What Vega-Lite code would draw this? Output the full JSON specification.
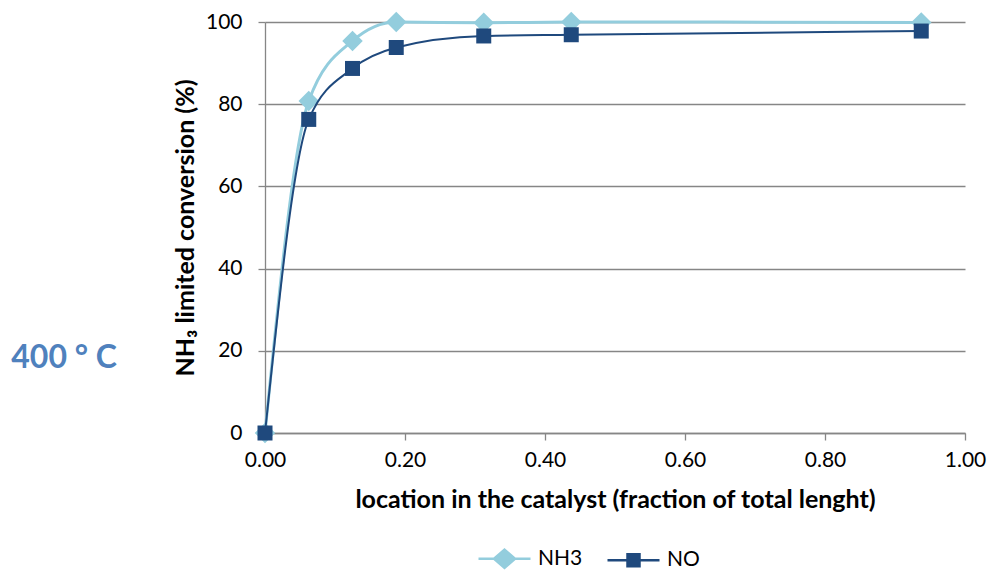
{
  "$schema": "https://vega.github.io/schema/vega-lite/v6.json",
  "width": 700,
  "height": 411,
  "autosize": "none",
  "padding": {"left": 265, "top": 22, "right": 23, "bottom": 139},
  "config": {
    "view": {"stroke": null},
    "font": "Lato",
    "axis": {
      "gridColor": "#868686",
      "gridWidth": 1.3,
      "domainColor": "#868686",
      "domainWidth": 1.3,
      "tickColor": "#868686",
      "tickWidth": 1.3,
      "tickSize": 7,
      "labelColor": "#000000",
      "labelFont": "Lato",
      "labelFontSize": 21,
      "labelFlush": false,
      "titleColor": "#000000",
      "titleFont": "Lato",
      "titleFontWeight": "bold",
      "titleFontSize": 25
    }
  },
  "datasets": {
    "conversion": [
      {"series": "NH3", "location": 0, "conversion": 0},
      {"series": "NH3", "location": 0.0625, "conversion": 80.8},
      {"series": "NH3", "location": 0.125, "conversion": 95.4},
      {"series": "NH3", "location": 0.1875, "conversion": 100},
      {"series": "NH3", "location": 0.3125, "conversion": 99.8},
      {"series": "NH3", "location": 0.4375, "conversion": 100},
      {"series": "NH3", "location": 0.9375, "conversion": 99.9},
      {"series": "NO", "location": 0, "conversion": 0},
      {"series": "NO", "location": 0.0625, "conversion": 76.3},
      {"series": "NO", "location": 0.125, "conversion": 88.7},
      {"series": "NO", "location": 0.1875, "conversion": 93.8},
      {"series": "NO", "location": 0.3125, "conversion": 96.6},
      {"series": "NO", "location": 0.4375, "conversion": 96.9},
      {"series": "NO", "location": 0.9375, "conversion": 97.8}
    ]
  },
  "data": {"name": "conversion"},
  "layer": [
    {
      "data": {"values": [{"label": "400 ° C"}]},
      "mark": {
        "type": "text",
        "clip": false,
        "font": "Lato",
        "fontSize": 32,
        "fontWeight": "bold",
        "color": "#4f81bd",
        "align": "center",
        "baseline": "alphabetic"
      },
      "encoding": {
        "x": {"datum": -0.287, "type": "quantitative"},
        "y": {"datum": 15.9, "type": "quantitative"},
        "text": {"field": "label", "type": "nominal"}
      }
    },
    {
      "transform": [{"filter": "datum.series === 'NH3'"}],
      "mark": {"type": "line", "interpolate": "monotone", "color": "#93cddd", "strokeWidth": 3},
      "encoding": {
        "x": {
          "field": "location",
          "type": "quantitative",
          "scale": {"domain": [0, 1], "nice": false, "zero": false},
          "axis": {
            "title": "location in the catalyst (fraction of total lenght)",
            "values": [0, 0.2, 0.4, 0.6, 0.8, 1],
            "format": ".2f",
            "grid": false,
            "labelPadding": 9,
            "titlePadding": 17
          }
        },
        "y": {
          "field": "conversion",
          "type": "quantitative",
          "scale": {"domain": [0, 100], "nice": false},
          "axis": {
            "title": "NH₃ limited conversion (%)",
            "values": [0, 20, 40, 60, 80, 100],
            "grid": true,
            "labelPadding": 16,
            "titlePadding": 7
          }
        }
      }
    },
    {
      "transform": [{"filter": "datum.series === 'NH3'"}],
      "mark": {"type": "point", "shape": "diamond", "filled": true, "opacity": 1, "size": 420, "color": "#93cddd"},
      "encoding": {
        "x": {"field": "location", "type": "quantitative"},
        "y": {"field": "conversion", "type": "quantitative"}
      }
    },
    {
      "transform": [{"filter": "datum.series === 'NO'"}],
      "mark": {"type": "line", "interpolate": "monotone", "color": "#1f497d", "strokeWidth": 2},
      "encoding": {
        "x": {"field": "location", "type": "quantitative"},
        "y": {"field": "conversion", "type": "quantitative"}
      }
    },
    {
      "transform": [{"filter": "datum.series === 'NO'"}],
      "mark": {"type": "point", "shape": "square", "filled": true, "opacity": 1, "size": 225, "color": "#1f497d"},
      "encoding": {
        "x": {"field": "location", "type": "quantitative"},
        "y": {"field": "conversion", "type": "quantitative"}
      }
    },
    {
      "data": {"values": []},
      "mark": {"type": "point", "filled": false, "opacity": 1, "strokeWidth": 2.5},
      "encoding": {
        "x": {"field": "location", "type": "quantitative"},
        "y": {"field": "conversion", "type": "quantitative"},
        "color": {
          "field": "series",
          "type": "nominal",
          "scale": {"domain": ["NH3", "NO"], "range": ["#93cddd", "#1f497d"]},
          "legend": {
            "title": null,
            "orient": "none",
            "legendX": 228,
            "legendY": 525,
            "padding": 0,
            "direction": "horizontal",
            "symbolSize": 400,
            "symbolStrokeWidth": 2.5,
            "symbolOpacity": 1,
            "labelFont": "Lato",
            "labelFontSize": 21,
            "labelColor": "#000000",
            "labelOffset": 22,
            "columnPadding": 19
          }
        },
        "shape": {
          "field": "series",
          "type": "nominal",
          "scale": {
            "domain": ["NH3", "NO"],
            "range": [
              "M-2.6,0H2.6M0,-0.9L1.05,0L0,0.9L-1.05,0ZM0,-0.68L0.79,0L0,0.68L-0.79,0ZM0,-0.45L0.53,0L0,0.45L-0.53,0ZM0,-0.23L0.26,0L0,0.23L-0.26,0Z",
              "M-2.6,0H2.6M-0.6,-0.6H0.6V0.6H-0.6ZM-0.4,-0.4H0.4V0.4H-0.4ZM-0.2,-0.2H0.2V0.2H-0.2Z"
            ]
          },
          "legend": {
            "title": null,
            "orient": "none",
            "legendX": 228,
            "legendY": 525,
            "padding": 0,
            "direction": "horizontal",
            "symbolSize": 400,
            "symbolStrokeWidth": 2.5,
            "symbolOpacity": 1,
            "labelFont": "Lato",
            "labelFontSize": 21,
            "labelColor": "#000000",
            "labelOffset": 22,
            "columnPadding": 19
          }
        }
      }
    }
  ]
}
